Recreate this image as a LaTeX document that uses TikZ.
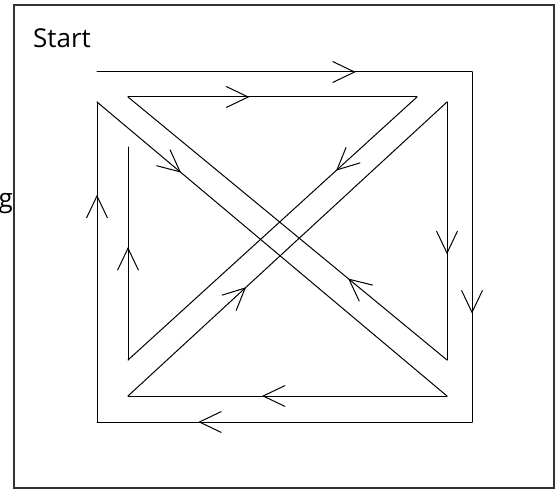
\documentclass[tikz,border=0pt]{standalone}
\usepackage{fontspec}
\setmainfont{Open Sans}
\usetikzlibrary{arrows.meta,decorations.markings}
\definecolor{frame}{HTML}{333333}
\tikzset{
  route/.style={line width=1pt, black, line cap=round, postaction={decorate},
    decoration={markings, mark=at position #1 with {\arrow{Straight Barb[length=22pt,width=21pt]}}}}
}

\begin{document}
\begin{tikzpicture}[x=1pt,y=-1pt]
  \useasboundingbox (0,0) rectangle (557,489);
  \draw[line width=2.5pt,frame] (14,5) rectangle (554,488);

  % Labels
  \node[font=\fontsize{26}{30}\selectfont,anchor=base west,inner sep=0pt] (start) at (33,48) {Start};
  \node[font=\fontsize{26}{30}\selectfont,anchor=base east,inner sep=0pt] (cut) at (13,208) {g};

  % Outer square
  \coordinate (o1) at (97,72);
  \coordinate (o2) at (472,72);
  \coordinate (o3) at (472,422);
  \coordinate (o4) at (97,422);
  \coordinate (o5) at (97,102);
  % Inner crossing
  \coordinate (i1) at (447,396);
  \coordinate (i2) at (128,396);
  \coordinate (i3) at (447,102);
  \coordinate (i4) at (447,360);
  \coordinate (i5) at (128,97);
  \coordinate (i6) at (417,97);
  \coordinate (i7) at (128,360);
  \coordinate (i8) at (128,147);

  \draw[route=0.69] (o1) -- (o2);
  \draw[route=0.69] (o2) -- (o3);
  \draw[route=0.73] (o3) -- (o4);
  \draw[route=0.71] (o4) -- (o5);
  \draw[route=0.24] (o5) -- (i1);
  \draw[route=0.58] (i1) -- (i2);
  \draw[route=0.37] (i2) -- (i3);
  \draw[route=0.59] (i3) -- (i4);
  \draw[route=0.31] (i4) -- (i5);
  \draw[route=0.42] (i5) -- (i6);
  \draw[route=0.28] (i6) -- (i7);
  \draw[route=0.53] (i7) -- (i8);
\end{tikzpicture}
\end{document}
